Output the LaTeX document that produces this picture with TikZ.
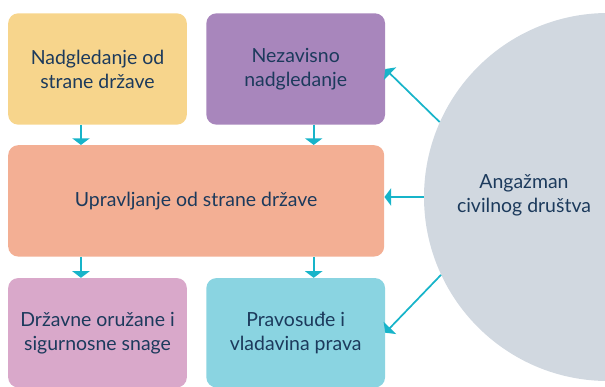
\documentclass[tikz,border=0pt]{standalone}
\usepackage{fontspec}
\setmainfont{Lato}
\usetikzlibrary{arrows.meta,positioning}
\definecolor{boxyellow}{HTML}{F7D58C}
\definecolor{boxpurple}{HTML}{A886BC}
\definecolor{boxorange}{HTML}{F3AF94}
\definecolor{boxpink}{HTML}{D9A8CA}
\definecolor{boxcyan}{HTML}{8AD4E1}
\definecolor{civilgray}{HTML}{D1D8E0}
\definecolor{arrowcyan}{HTML}{17B4C9}
\definecolor{textnavy}{HTML}{1C3A5C}

\begin{document}
\begin{tikzpicture}[x=0.75pt,y=-0.75pt,
            box/.style={rounded corners=7.5pt, minimum width=134pt, minimum height=83.5pt, inner sep=0pt},
            circ/.style={circle, fill=civilgray, minimum size=276pt, inner sep=0pt},
            every node/.style={align=center, text=textnavy, font=\fontsize{14.6}{18}\selectfont},
            to/.style={-{Triangle[width=13pt,length=5pt]}, draw=arrowcyan, line width=1.3pt},
            node distance = 14.25pt
  ]
  \useasboundingbox (0,0) rectangle (605,386);

  \node[circ] (civil) at (608,197) {};
  \node (civiltxt) at (524,195) {Angažman\\civilnog društva};

  \node[box, fill=boxyellow] (statewatch) at (97.5,69) {Nadgledanje od\\strane države};
  \node[box, fill=boxpurple] (indep) [right=of statewatch] {Nezavisno\\nadgledanje};
  \node[box, fill=boxorange, minimum width=282pt] (govt) [below right=15pt and 0pt of statewatch.south west] {Upravljanje od strane države};
  \node[box, fill=boxpink, minimum height=82pt] (forces) [below right=15.75pt and 0pt of govt.south west] {Državne oružane i\\sigurnosne snage};
  \node[box, fill=boxcyan, minimum height=82pt] (justice) [right=of forces] {Pravosuđe i\\vladavina prava};

  \draw[to] ([xshift=-12.4pt]statewatch.south) -- ([xshift=-12.4pt]statewatch.south |- govt.north);
  \draw[to] ([xshift=13.5pt]indep.south) -- ([xshift=13.5pt]indep.south |- govt.north);
  \draw[to] ([xshift=-12.4pt]statewatch.south |- govt.south) -- ([xshift=-12.4pt]statewatch.south |- forces.north);
  \draw[to] ([xshift=13.5pt]indep.south |- govt.south) -- ([xshift=13.5pt]indep.south |- justice.north);

  \draw[to] (civil.156) -- (indep.east);
  \draw[to] (civil.west) -- (civil.west -| govt.east);
  \draw[to] (civil.205.6) -- (justice.east);

\end{tikzpicture}
\end{document}
